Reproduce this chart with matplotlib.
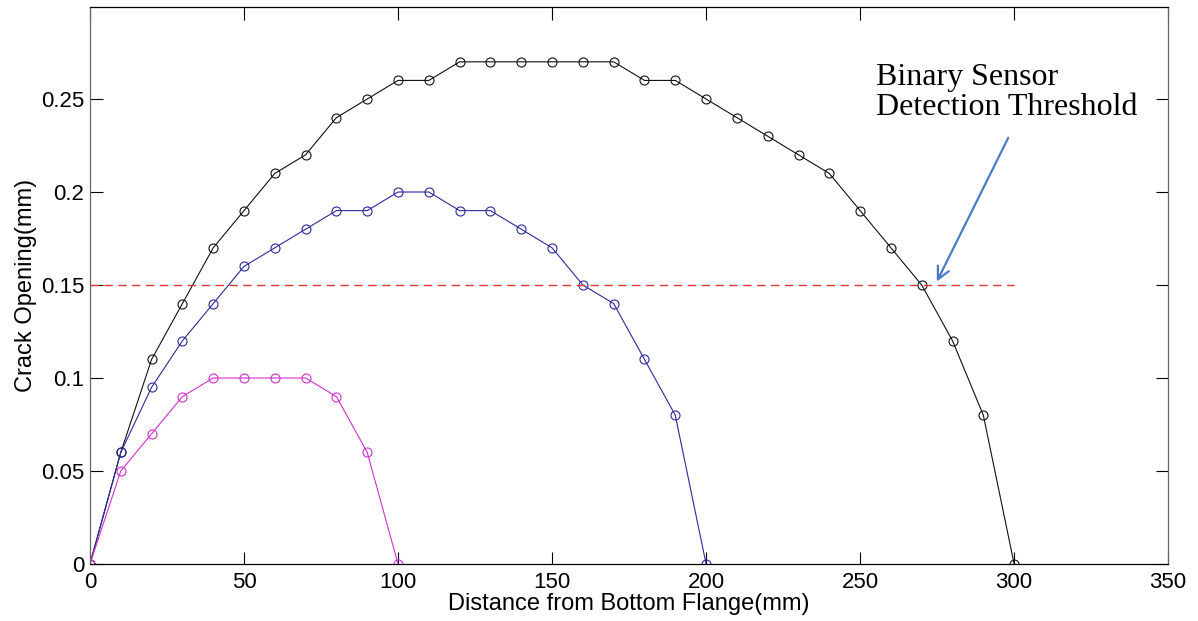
import matplotlib
matplotlib.use("Agg")
import matplotlib.pyplot as plt
import numpy as np

# distance from bottom flange (mm) and crack opening (mm) per crack
x_large = np.arange(0, 301, 10)
y_large = [0, 0.06, 0.11, 0.14, 0.17, 0.19, 0.21, 0.22, 0.24, 0.25, 0.26,
           0.26, 0.27, 0.27, 0.27, 0.27, 0.27, 0.27, 0.26, 0.26, 0.25,
           0.24, 0.23, 0.22, 0.21, 0.19, 0.17, 0.15, 0.12, 0.08, 0]

x_mid = np.arange(0, 201, 10)
y_mid = [0, 0.06, 0.095, 0.12, 0.14, 0.16, 0.17, 0.18, 0.19, 0.19, 0.2,
         0.2, 0.19, 0.19, 0.18, 0.17, 0.15, 0.14, 0.11, 0.08, 0]

x_small = np.arange(0, 101, 10)
y_small = [0, 0.05, 0.07, 0.09, 0.1, 0.1, 0.1, 0.1, 0.09, 0.06, 0]

threshold = 0.15
threshold_x = [0, 300]

yticks = [0, 0.05, 0.1, 0.15, 0.2, 0.25]
ytick_labels = ["0", "0.05", "0.1", "0.15", "0.2", "0.25"]
xticks = [0, 50, 100, 150, 200, 250, 300, 350]

plt.rcParams["font.family"] = ["Liberation Sans", "DejaVu Sans"]

fig = plt.figure(figsize=(11.98, 6.21), dpi=100)
ax = fig.add_axes([0.0751, 0.0918, 0.9, 0.897])

line_kw = dict(marker="o", markerfacecolor="none", markersize=6.5,
               linewidth=0.8, markeredgewidth=0.8)
ax.plot(x_large, y_large, color="#111111", **line_kw)
ax.plot(x_mid, y_mid, color="#2b2b9c", **line_kw)
ax.plot(x_small, y_small, color="#cc33cc", **line_kw)
ax.plot(threshold_x, [threshold, threshold], color="#e03535",
        linestyle=(0, (6, 4)), linewidth=1.0)

ax.annotate("", xy=(274.5, 0.1505), xytext=(298.5, 0.2305),
            arrowprops=dict(arrowstyle="->", color="#4a7cc7", lw=1.6,
                            mutation_scale=22))
ax.text(255, 0.2695, "Binary Sensor\nDetection Threshold",
        family=["Liberation Serif"], fontsize=23, va="top", ha="left",
        linespacing=1.05)

ax.set_xlim(0, 350)
ax.set_ylim(0, 0.2995)
ax.set_xticks(xticks)
ax.set_yticks(yticks)
ax.set_yticklabels(ytick_labels)
ax.tick_params(direction="in", length=9, width=0.8, labelsize=16,
               top=True, right=True, pad=4)
ax.tick_params(axis="x", pad=6)
ax.set_xlabel("Distance from Bottom Flange(mm)", fontsize=17, labelpad=0)
ax.set_ylabel("Crack Opening(mm)", fontsize=17, labelpad=3)
for side in ["left", "right"]:
    ax.spines[side].set_color("#666666")
for side in ax.spines:
    ax.spines[side].set_linewidth(0.9)

fig.savefig("out.png", dpi=100)
